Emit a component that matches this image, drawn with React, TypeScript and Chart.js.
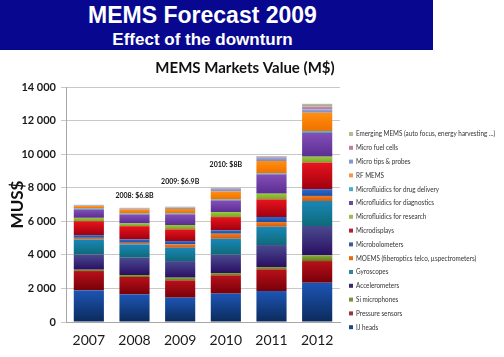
import React, { useEffect, useRef } from 'react';
import { Chart, registerables } from 'chart.js';

Chart.register(...registerables);

// ---------- data ----------
const years = ['2007', '2008', '2009', '2010', '2011', '2012'];

const seriesNames = [
  'IJ heads',
  'Pressure sensors',
  'Si microphones',
  'Accelerometers',
  'Gyroscopes',
  'MOEMS (fiberoptics telco, µspectrometers)',
  'Microbolometers',
  'Microdisplays',
  'Microfluidics for research',
  'Microfluidics for diagnostics',
  'Microfluidics for drug delivery',
  'RF MEMS',
  'Micro tips & probes',
  'Micro fuel cells',
  'Emerging MEMS (auto focus, energy harvesting ...)',
];

const ijHeads = [1885, 1650, 1450, 1690, 1845, 2340];
const pressureSensors = [1150, 1030, 1030, 1090, 1290, 1290];
const siMicrophones = [80, 120, 160, 140, 140, 340];
const accelerometers = [910, 1030, 990, 1090, 1310, 1750];
const gyroscopes = [890, 790, 790, 950, 1090, 1490];
const moems = [100, 100, 200, 300, 280, 300];
const microbolometers = [160, 200, 200, 200, 300, 400];
const microdisplays = [830, 790, 700, 790, 1050, 1590];
const mfResearch = [200, 160, 260, 300, 340, 350];
const mfDiagnostics = [500, 535, 635, 690, 1150, 1420];
const mfDrugDelivery = [60, 60, 60, 60, 60, 100];
const rfMems = [140, 240, 260, 475, 735, 1100];
const microTips = [40, 60, 80, 160, 200, 200];
const microFuelCells = [20, 20, 20, 40, 60, 180];
const emergingMems = [20, 20, 40, 40, 40, 150];

const seriesValues = [
  ijHeads, pressureSensors, siMicrophones, accelerometers, gyroscopes, moems,
  microbolometers, microdisplays, mfResearch, mfDiagnostics, mfDrugDelivery,
  rfMems, microTips, microFuelCells, emergingMems,
];

const yTicks = [0, 2000, 4000, 6000, 8000, 10000, 12000, 14000];

const noteLabels = ['2008: $6.8B', '2009: $6.9B', '2010: $8B'];
const noteYears = ['2008', '2009', '2010'];
const noteValues = [7500, 8350, 9350];

// ---------- styles ----------
const topColors = [
  '#1d55b5', '#b8101a', '#8aab3a', '#4b4a90', '#1a86b8', '#f07a20', '#2a6ad0',
  '#e8141e', '#98c83a', '#8450b8', '#40b4cc', '#ff9010', '#9aa8dc', '#d098b0', '#b8c0a8',
];
const bottomColors = [
  '#0b2a5a', '#780008', '#5e7a1e', '#2a0e62', '#0e6a78', '#d05a10', '#1a4ea0',
  '#a0000e', '#7aa428', '#5a2d92', '#2a98b0', '#f07000', '#7a88c4', '#b07890', '#a0a890',
];
const legendColors = [
  '#1f497d', '#953735', '#77933c', '#3b2a6a', '#31859c', '#e46c0a', '#376092',
  '#b8202a', '#9bbb59', '#6a4a9a', '#4bacc6', '#f79646', '#8497cf', '#c0809c', '#b0c090',
];

const fmt = (v: number) => String(v).replace(/\B(?=(\d{3})+(?!\d))/g, ' ');

const decorPlugin = {
  id: 'decor',
  afterDraw(chart: any) {
    const { ctx, scales } = chart;
    ctx.save();
    // chart title
    ctx.fillStyle = '#111';
    ctx.font = 'bold 15px Lato';
    ctx.textAlign = 'center';
    ctx.textBaseline = 'middle';
    ctx.fillText('MEMS Markets Value (M$)', 245, 68);

    // annotations
    ctx.font = 'bold 7px Lato';
    noteLabels.forEach((t, i) => {
      const x = scales.x.getPixelForValue(years.indexOf(noteYears[i]));
      const y = scales.y.getPixelForValue(noteValues[i]);
      ctx.fillText(t, x, y);
    });

    // legend (reversed order, top to bottom)
    ctx.textAlign = 'left';
    ctx.font = '7.2px Lato';
    const n = seriesNames.length;
    for (let k = 0; k < n; k++) {
      const i = n - 1 - k;
      const y = 134 + k * 13.8;
      ctx.fillStyle = legendColors[i];
      ctx.fillRect(349, y - 2, 4, 4);
      ctx.fillStyle = '#333';
      ctx.save();
      ctx.translate(356, y);
      ctx.scale(0.88, 1);
      ctx.fillText(seriesNames[i], 0, 0);
      ctx.restore();
    }
    ctx.restore();
  },
};

function gradientFor(ctx: any, i: number) {
  const chart = ctx.chart;
  const scales = chart.scales;
  if (!chart.chartArea || !scales || !scales.y) return topColors[i];
  const j = ctx.dataIndex;
  if (j === undefined || j === null) return topColors[i];
  let base = 0;
  for (let s = 0; s < i; s++) base += seriesValues[s][j];
  const end = base + seriesValues[i][j];
  const y0 = scales.y.getPixelForValue(base);
  const y1 = scales.y.getPixelForValue(end);
  if (!isFinite(y0) || !isFinite(y1) || y0 === y1) return topColors[i];
  const g = chart.ctx.createLinearGradient(0, y1, 0, y0);
  g.addColorStop(0, topColors[i]);
  g.addColorStop(1, bottomColors[i]);
  return g;
}

export default function App() {
  const ref = useRef<HTMLCanvasElement>(null);

  useEffect(() => {
    if (!ref.current) return;
    const chart = new Chart(ref.current, {
      type: 'bar',
      data: {
        labels: years,
        datasets: seriesNames.map((name, i) => ({
          label: name,
          data: seriesValues[i],
          backgroundColor: (c: any) => gradientFor(c, i),
          borderWidth: 0,
          barPercentage: 0.66,
          categoryPercentage: 1,
        })),
      },
      options: {
        responsive: false,
        animation: false,
        layout: { padding: { top: 87, left: 0, right: 164, bottom: 0 } },
        plugins: {
          legend: { display: false },
          title: { display: false },
          tooltip: { enabled: false },
        },
        scales: {
          x: {
            stacked: true,
            grid: { display: false, drawTicks: false },
            border: { color: '#a6a6a6' },
            ticks: { font: { family: 'Lato', size: 14 }, color: '#1a1a1a', padding: 10 },
            afterFit: (s: any) => { s.height = 35; },
          },
          y: {
            stacked: true,
            min: 0,
            max: 14000,
            afterBuildTicks: (s: any) => { s.ticks = yTicks.map((v) => ({ value: v })); },
            ticks: {
              font: { family: 'Lato', size: 11, weight: 'bold' },
              color: '#1a1a1a',
              padding: 5,
              callback: (v: any) => fmt(Number(v)),
            },
            grid: { color: '#c8c8c8', tickLength: 5 },
            border: { color: '#a6a6a6' },
            title: {
              display: true,
              text: 'MUS$',
              font: { family: 'Lato', size: 17, weight: 'bold' },
              color: '#111',
              padding: { top: 7, bottom: 0 },
            },
            afterFit: (s: any) => { s.width = 66; },
          },
        },
      } as any,
      plugins: [decorPlugin],
    });
    return () => chart.destroy();
  }, []);

  return (
    <div style={{ position: 'fixed', left: 0, top: 0, width: 504, height: 357, background: '#fff', overflow: 'hidden' }}>
      <canvas ref={ref} width={504} height={357} style={{ position: 'absolute', left: 0, top: 0 }} />
      <div style={{ position: 'absolute', left: 0, top: 0, width: 433, height: 50, background: '#07078f' }}>
        <div style={{ position: 'absolute', left: 0, top: 4, width: 405, textAlign: 'center', color: '#fff', font: 'bold 23px "Liberation Sans", Arial, sans-serif', lineHeight: '23px', whiteSpace: 'nowrap' }}>
          MEMS Forecast 2009
        </div>
        <div style={{ position: 'absolute', left: 0, top: 31, width: 405, textAlign: 'center', color: '#fff', font: 'bold 17px "Liberation Sans", Arial, sans-serif', lineHeight: '17px', whiteSpace: 'nowrap' }}>
          Effect of the downturn
        </div>
      </div>
    </div>
  );
}
